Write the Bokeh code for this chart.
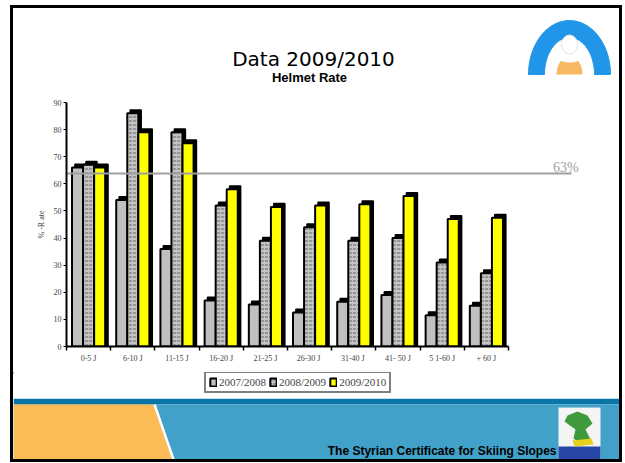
import numpy as np
from bokeh.plotting import figure
from bokeh.layouts import column
from bokeh.models import (Range1d, FixedTicker, Label, Legend, LegendItem,
                          ColumnDataSource)
from bokeh.core.properties import value
from bokeh.embed import file_html
from bokeh.resources import INLINE

# ---------------- data ----------------
categories = ["0-5 J", "6-10 J", "11-15 J", "16-20 J", "21-25 J",
              "26-30  J", "31-40  J", "41- 50 J", "5 1-60 J", "+ 60 J"]
series_names = ["2007/2008", "2008/2009", "2009/2010"]
rate_0708 = [66, 54, 36, 17, 15.5, 12.5, 16.5, 19, 11.5, 15]
rate_0809 = [67, 86, 79, 52, 39, 44, 39, 40, 31, 27]
rate_0910 = [66, 79, 75, 58, 51.5, 52, 52.5, 55.5, 47, 47.5]
ref_value = 63.8
ref_label = "63%"
y_ticks = [0, 10, 20, 30, 40, 50, 60, 70, 80, 90]

IW = 606          # inner width (inside 3px slide border)
HH, CH, LH, FH = 82, 282, 26, 61
TXT_SHIFT = 9     # empirical text baseline correction in decoration strips

fills = ["#C0C0C0", "#C4C4C4", "#FFFF00"]
hatch_kw = dict(hatch_pattern="horizontal_dash", hatch_color="#6E6E6E",
                hatch_scale=4, hatch_weight=1.2, hatch_alpha=0.9)


def deco_fig(h):
    f = figure(width=IW, height=h, output_backend="svg", toolbar_location=None, title=None,
               x_range=Range1d(0, IW), y_range=Range1d(h, 0),
               min_border=0, min_border_left=0, min_border_right=0,
               min_border_top=0, min_border_bottom=0, frame_align=False)
    f.axis.visible = False
    f.grid.visible = False
    f.outline_line_color = None
    f.background_fill_color = "white"
    f.border_fill_color = "white"
    return f


# ---------------- header ----------------
hdr = deco_fig(HH)
hdr.text(x=[300], y=[59 - TXT_SHIFT], text=["Data 2009/2010"], text_font=value("DejaVu Sans"),
         text_font_size="20px", text_align="center", text_baseline="alphabetic", text_color="black")
hdr.text(x=[296], y=[78 - TXT_SHIFT], text=["Helmet Rate"], text_font=value("Liberation Sans"),
         text_font_size="13px", text_font_style="bold", text_align="center",
         text_baseline="alphabetic", text_color="black")
cx, cy = 556, 66
th = np.linspace(np.pi, 0, 60)
ox = cx + 41 * np.cos(th); oy = cy - 54 * np.sin(th)
ix = cx + 25 * np.cos(th[::-1]); iy = cy - 37 * np.sin(th[::-1])
hdr.patch(x=list(ox) + list(ix), y=list(oy) + list(iy), fill_color="#2196E8", line_color="#2196E8")
bt = np.linspace(np.pi, 0, 30)
hdr.patch(x=list(cx + 13 * np.cos(bt)), y=list(cy - 18 * np.sin(bt)),
          fill_color="#F6B862", line_color=None)
hdr.ellipse(x=[cx], y=[36], width=16, height=19, fill_color="white", line_color="#E4E4E4")
hdr.ellipse(x=[cx], y=[50], width=22, height=8, fill_color="white", line_color=None)

# ---------------- chart ----------------
n = len(categories)
FL, FR = 53, 570
cat_px = 44.2
x_end = -0.5 + (FR - FL) / cat_px
line_end = -0.5 + (558 - FL) / cat_px

p = figure(width=IW, height=CH, output_backend="svg", toolbar_location=None, title=None,
           x_range=Range1d(-0.5, x_end), y_range=Range1d(0, 90),
           min_border_left=FL, min_border_right=IW - FR,
           min_border_top=12, min_border_bottom=26, frame_align=False)
p.outline_line_color = None
p.xgrid.grid_line_color = None
p.ygrid.grid_line_color = None
p.background_fill_color = "white"
p.border_fill_color = "white"

xs = np.arange(n)
bw = 0.25
offsets = [-bw, 0.0, bw]
series = [rate_0708, rate_0809, rate_0910]
for k, (vals, off, col) in enumerate(zip(series, offsets, fills)):
    src = ColumnDataSource(dict(x=xs + off, top=vals))
    shadow = ColumnDataSource(dict(x=xs + off + 0.065, top=np.array(vals, dtype=float) + 1.2))
    p.vbar(x="x", top="top", bottom=0, width=bw, source=shadow,
           fill_color="black", line_color="black", line_width=1.5)
    kw = hatch_kw if k == 1 else {}
    p.vbar(x="x", top="top", bottom=0, width=bw, source=src,
           fill_color=col, line_color="black", line_width=2, **kw)

p.segment(x0=[-0.5], x1=[line_end], y0=[ref_value], y1=[ref_value],
          line_color="#A0A0A0", line_width=2)
p.add_layout(Label(x=line_end - 0.42, y=ref_value - 0.4, text=ref_label, text_font="Liberation Serif",
                   text_font_size="14px", text_color="#A0A0A0", text_baseline="bottom"))

xa = p.xaxis[0]
xa.bounds = (-0.5, n - 0.5)
xa.ticker = FixedTicker(ticks=list(range(n)), minor_ticks=[i - 0.5 for i in range(n + 1)])
xa.major_label_overrides = {i: c for i, c in enumerate(categories)}
xa.major_tick_out = 0
xa.major_tick_in = 0
xa.minor_tick_out = 4
xa.minor_tick_in = 0
xa.minor_tick_line_color = "black"
xa.minor_tick_line_width = 1.5
xa.axis_line_color = "black"
xa.axis_line_width = 2
xa.major_label_text_font = "Liberation Serif"
xa.major_label_text_font_size = "8px"
xa.major_label_standoff = 3

ya = p.yaxis[0]
ya.ticker = FixedTicker(ticks=y_ticks, minor_ticks=[])
ya.major_tick_out = 3
ya.major_tick_in = 0
ya.axis_line_color = "black"
ya.axis_line_width = 2
ya.major_label_text_font = "Liberation Serif"
ya.major_label_text_font_size = "8px"
ya.major_label_standoff = 2
ya.axis_label = "% -R ate"
ya.axis_label_text_font = "Liberation Serif"
ya.axis_label_text_font_size = "8px"
ya.axis_label_text_font_style = "normal"
ya.axis_label_standoff = 5

# ---------------- legend strip ----------------
lg = deco_fig(LH)
items = []
for k, (name, col) in enumerate(zip(series_names, fills)):
    kw = hatch_kw if k == 1 else {}
    r = lg.vbar(x=[-50], top=[0], bottom=0, width=1, fill_color=col, line_color="black",
                line_width=2, **kw)
    items.append(LegendItem(label=name, renderers=[r]))
legend = Legend(items=items, orientation="horizontal", location=(191, 5),
                border_line_color="black", border_line_width=2,
                background_fill_color="white", background_fill_alpha=1,
                label_text_font="Liberation Serif", label_text_font_size="11px",
                glyph_width=8, glyph_height=10, label_standoff=2, spacing=3,
                padding=3, margin=0, label_height=10)
lg.add_layout(legend, "center")

# ---------------- footer ----------------
ftr = deco_fig(FH)
ftr.quad(left=[0], right=[IW], top=[0], bottom=[6], fill_color="#0A76A8", line_color=None)
ftr.quad(left=[0], right=[IW], top=[6], bottom=[FH], fill_color="#41A1C9", line_color=None)
ftr.patch(x=[0, 140, 159, 0], y=[6, 6, FH, FH], fill_color="#FDBB56", line_color=None)
ftr.line(x=[141, 160], y=[6, FH], line_color="white", line_width=2.5)
ftr.quad(left=[545], right=[587], top=[9], bottom=[FH], fill_color="#F4F4F4", line_color=None)
ftr.quad(left=[545], right=[587], top=[48], bottom=[FH], fill_color="#2846A8", line_color=None)
ftr.patch(x=[554, 564, 574, 579, 572, 577, 567, 560, 562, 551],
          y=[17, 13, 17, 25, 31, 41, 45, 40, 31, 23], fill_color="#3E9A3A", line_color=None)
ftr.patch(x=[559, 578, 580, 561], y=[42, 40, 46, 48], fill_color="#E8D21E", line_color=None)
ftr.text(x=[543], y=[61 - TXT_SHIFT], text=["The Styrian Certificate for Skiing Slopes"],
         text_font=value("Liberation Sans"), text_font_size="12px",
         text_font_style="bold", text_align="right", text_baseline="alphabetic",
         text_color="black")

layout = column(hdr, p, lg, ftr, spacing=0,
                styles={"border": "3px solid black", "background-color": "white",
                        "margin-left": "10px", "margin-top": "5px"})

open("out.html", "w").write(file_html(layout, INLINE))
